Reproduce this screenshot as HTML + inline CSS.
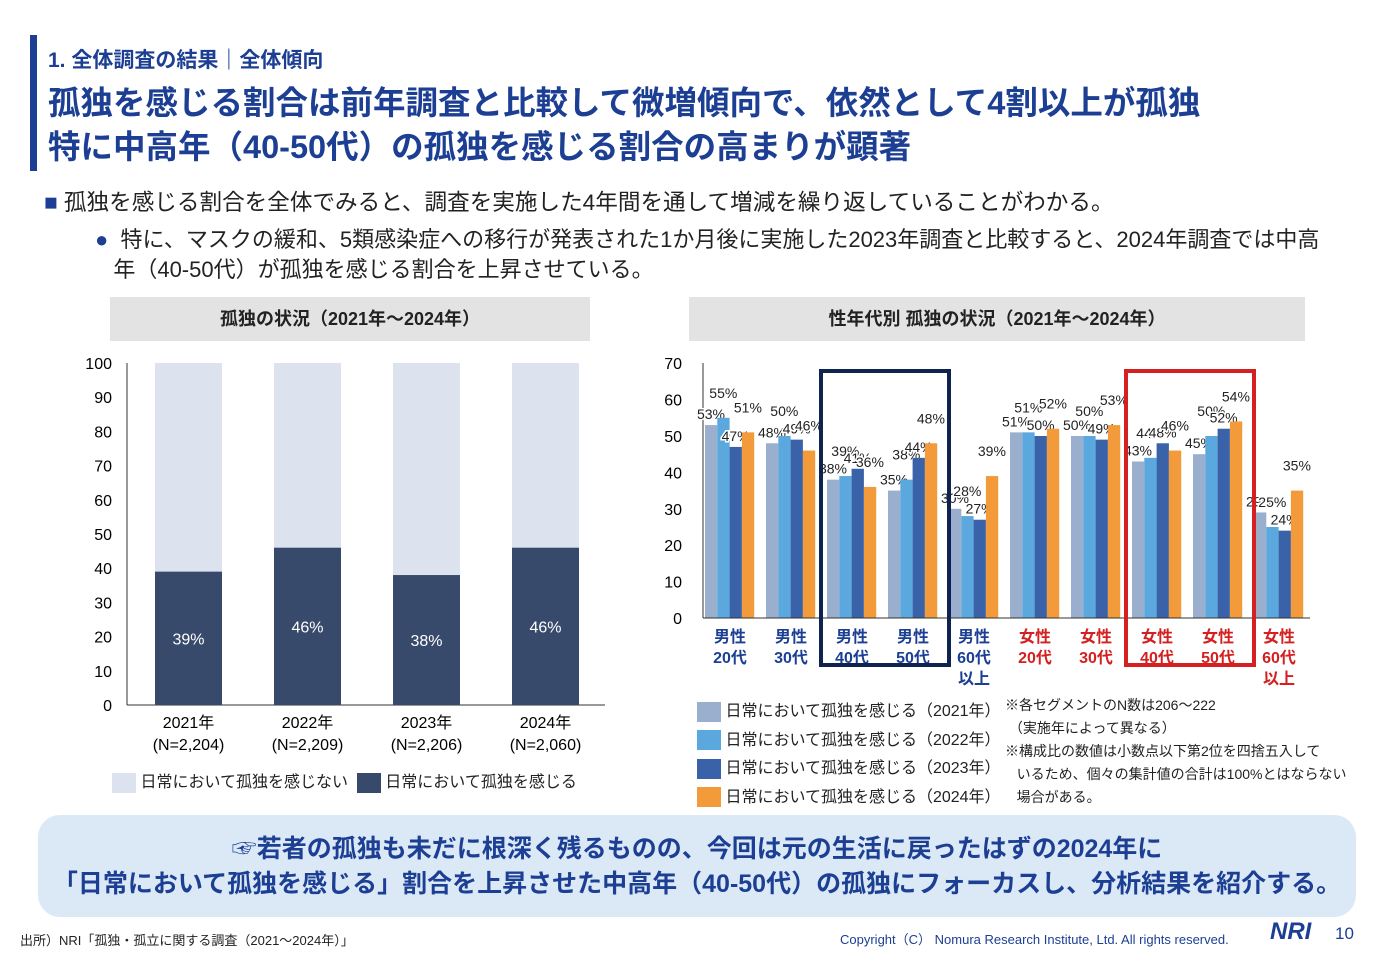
<!DOCTYPE html>
<html><head><meta charset="utf-8"><style>
body{margin:0;width:1376px;height:953px;background:#fff;position:relative;overflow:hidden;font-family:"Liberation Sans","Noto Sans CJK JP",sans-serif;color:#222}
.a{position:absolute;white-space:nowrap}
</style></head><body>
<div class="a" style="left:30px;top:35px;width:7px;height:136px;background:#1c3f94"></div>
<div class="a" style="left:48px;top:44px;font-size:21px;color:#1c3f94;font-weight:bold">1. 全体調査の結果｜全体傾向</div>
<div class="a" style="left:48px;top:81px;font-size:32.5px;font-weight:bold;color:#1c3f94;line-height:44px">孤独を感じる割合は前年調査と比較して微増傾向で、依然として4割以上が孤独<br>特に中高年（40-50代）の孤独を感じる割合の高まりが顕著</div>
<div class="a" style="left:44px;top:184px;font-size:22.6px"><span style="color:#1c3f94">■</span> 孤独を感じる割合を全体でみると、調査を実施した4年間を通して増減を繰り返していることがわかる。</div>
<div class="a" style="left:95px;top:225px;font-size:22px;line-height:30px"><span style="color:#1c3f94">●</span>&nbsp; 特に、マスクの緩和、5類感染症への移行が発表された1か月後に実施した2023年調査と比較すると、2024年調査では中高<br>&nbsp;&nbsp;&nbsp;年（40-50代）が孤独を感じる割合を上昇させている。</div>
<div class="a" style="left:110px;top:297px;width:480px;height:44px;background:#e3e3e3;text-align:center;line-height:44px;font-size:18px;font-weight:bold">孤独の状況（2021年～2024年）</div>
<div class="a" style="left:689px;top:297px;width:616px;height:44px;background:#e3e3e3;text-align:center;line-height:44px;font-size:18px;font-weight:bold">性年代別 孤独の状況（2021年～2024年）</div>
<svg class="a" style="left:0;top:0" width="1376" height="953" font-family="Liberation Sans, Noto Sans CJK JP, sans-serif">
<g id="left"></g><g id="right"></g>
</svg>
<div class="a" style="left:112px;top:768px;font-size:16px"><span style="display:inline-block;width:24px;height:20px;background:#dde3ee;vertical-align:middle"></span> 日常において孤独を感じない &nbsp;<span style="display:inline-block;width:24px;height:20px;background:#374a6b;vertical-align:middle"></span> 日常において孤独を感じる</div>
<div class="a" style="left:697px;top:698px;font-size:16px;line-height:28.5px">
<div><span style="display:inline-block;width:24px;height:20px;background:#9aafcd;vertical-align:middle"></span> 日常において孤独を感じる（2021年）</div>
<div><span style="display:inline-block;width:24px;height:20px;background:#5ba8de;vertical-align:middle"></span> 日常において孤独を感じる（2022年）</div>
<div><span style="display:inline-block;width:24px;height:20px;background:#3a62a8;vertical-align:middle"></span> 日常において孤独を感じる（2023年）</div>
<div><span style="display:inline-block;width:24px;height:20px;background:#f39a3a;vertical-align:middle"></span> 日常において孤独を感じる（2024年）</div></div>
<div class="a" style="left:1005px;top:694px;font-size:14px;line-height:23px">※各セグメントのN数は206～222<br>&nbsp;（実施年によって異なる）<br>※構成比の数値は小数点以下第2位を四捨五入して<br>&nbsp;&nbsp;&nbsp;いるため、個々の集計値の合計は100%とはならない<br>&nbsp;&nbsp;&nbsp;場合がある。</div>
<div class="a" style="left:38px;top:815px;width:1318px;height:102px;background:#dbe9f6;border-radius:22px;text-align:center;font-size:25px;font-weight:bold;color:#1c3f94;line-height:35px;padding-top:17px;box-sizing:border-box">☞若者の孤独も未だに根深く残るものの、今回は元の生活に戻ったはずの2024年に<br>「日常において孤独を感じる」割合を上昇させた中高年（40-50代）の孤独にフォーカスし、分析結果を紹介する。</div>
<div class="a" style="left:20px;top:930px;font-size:13px">出所）NRI「孤独・孤立に関する調査（2021～2024年）」</div>
<div class="a" style="left:840px;top:929px;font-size:13px;color:#1c3f94">Copyright（C） Nomura Research Institute, Ltd. All rights reserved.</div>
<div class="a" style="left:1270px;top:918px;font-size:24px;font-weight:bold;font-style:italic;color:#1c3f94">NRI</div>
<div class="a" style="left:1335px;top:924px;font-size:17px;color:#1c3f94">10</div>
<script>
const years=["2021年","2022年","2023年","2024年"];
const nLabels=["(N=2,204)","(N=2,209)","(N=2,206)","(N=2,060)"];
const feel=[39,46,38,46];
const leftTicks=[0,10,20,30,40,50,60,70,80,90,100];
const groups=["男性|20代","男性|30代","男性|40代","男性|50代","男性|60代|以上","女性|20代","女性|30代","女性|40代","女性|50代","女性|60代|以上"];
const s2021=[53,48,38,35,30,51,50,43,45,29];
const s2022=[55,50,39,38,28,51,50,44,50,25];
const s2023=[47,49,41,44,27,50,49,48,52,24];
const s2024=[51,46,36,48,39,52,53,46,54,35];
const rightTicks=[0,10,20,30,40,50,60,70];
const NS="http://www.w3.org/2000/svg";
function mk(p,t,at,txt){const e=document.createElementNS(NS,t);for(const k in at)e.setAttribute(k,at[k]);if(txt!==undefined)e.textContent=txt;p.appendChild(e);return e;}
const L=document.getElementById('left');
const ly=v=>705-v*3.42, lx=i=>155+i*119;
leftTicks.forEach(t=>{const e=mk(L,'text',{x:112,y:ly(t)+6,'text-anchor':'end','font-size':16},t);

});
mk(L,'line',{x1:127,y1:363,x2:127,y2:705,stroke:'#333'});
mk(L,'line',{x1:127,y1:705,x2:605,y2:705,stroke:'#333'});
feel.forEach((v,i)=>{
 const bg=mk(L,'rect',{x:lx(i),y:ly(100),width:67,height:ly(v)-ly(100),fill:'#dde3ee'});
 
 
 const r=mk(L,'rect',{x:lx(i),y:ly(v),width:67,height:705-ly(v),fill:'#374a6b'});
 
 
 mk(L,'text',{x:lx(i)+33.5,y:(ly(v)+705)/2+6,'text-anchor':'middle','font-size':16,fill:'#fff'},v+'%');
 mk(L,'text',{x:lx(i)+33.5,y:728,'text-anchor':'middle','font-size':16},years[i]);
 mk(L,'text',{x:lx(i)+33.5,y:750,'text-anchor':'middle','font-size':16},nLabels[i]);
});
const R=document.getElementById('right');
const ry=v=>618-v*3.64, gx=i=>705+i*61;
rightTicks.forEach(t=>{const e=mk(R,'text',{x:682,y:ry(t)+6,'text-anchor':'end','font-size':16},t);

});
mk(R,'line',{x1:703,y1:363,x2:703,y2:618,stroke:'#333'});
const cols=['#9aafcd','#5ba8de','#3a62a8','#f39a3a'];
const series=[s2021,s2022,s2023,s2024];
groups.forEach((g,i)=>{
 series.forEach((s,k)=>{
  const x=gx(i)+k*12.3;
  const r=mk(R,'rect',{x:x,y:ry(s[i]),width:12.3,height:618-ry(s[i]),fill:cols[k]});
  
  
  const yy=ry(s[i])-6-(k%2)*14;
  mk(R,'text',{x:x+6,y:yy,'text-anchor':'middle','font-size':14,fill:'#222',stroke:'#fff','stroke-width':3,'paint-order':'stroke'},s[i]+'%');
 });
 const parts=g.split('|');const fem=parts[0]==='女性';
 parts.forEach((p,j)=>mk(R,'text',{x:gx(i)+25,y:642+j*21,'text-anchor':'middle','font-size':16,'font-weight':'bold',fill:fem?'#d42020':'#1c3f94'},p));
});
mk(R,'line',{x1:703,y1:618,x2:1310,y2:618,stroke:'#333'});
const b1=mk(R,'rect',{x:gx(2)-6,y:371,width:128,height:294,fill:'none',stroke:'#0e2350','stroke-width':4});


const b2=mk(R,'rect',{x:gx(7)-6,y:371,width:128,height:294,fill:'none',stroke:'#d42020','stroke-width':4});


</script>
</body></html>
